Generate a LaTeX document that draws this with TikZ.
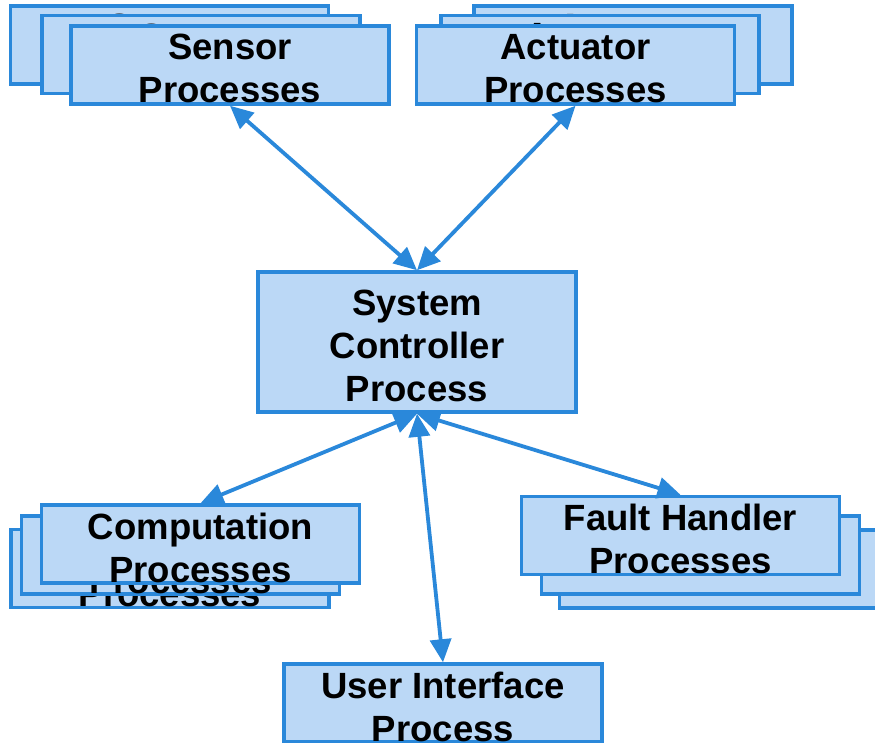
\documentclass[tikz,border=0pt]{standalone}
\usepackage{fontspec}
\setmainfont{Liberation Sans}
\usetikzlibrary{arrows.meta}
\definecolor{boxfill}{RGB}{187,216,246}
\definecolor{boxline}{RGB}{42,136,218}
\begin{document}
\begin{tikzpicture}[x=1pt,y=-1pt,
	proc/.style={draw=boxline, fill=boxfill, line width=3.5pt, rectangle, inner sep=0pt,
		minimum width=318pt, minimum height=78pt},
	txt/.style={align=center, inner sep=0pt, yshift=-3.5pt,
		font=\fontsize{36.5pt}{43pt}\selectfont\bfseries},
	link/.style={draw=boxline, line width=3.8pt,
		{Triangle[length=23pt,width=21pt]}-{Triangle[length=23pt,width=21pt]}}]
	\useasboundingbox (0,0) rectangle (875,742);
	\clip (0,0) rectangle (875,742);
	
	% sensor stack
	\node	(s3) at (169.5,45) [proc, label={[txt]center:Sensor\\Processes}] {};
	\node	(s2) at (201,54.5) [proc, label={[txt]center:Sensor\\Processes}] {};
	\node	(s1) at (230,65) [proc, label={[txt]center:Sensor\\Processes}] {};
	
	% actuator stack
	\node	(a3) at (633,45) [proc, label={[txt]center:Actuator\\Processes}] {};
	\node	(a2) at (600,54.5) [proc, label={[txt]center:Actuator\\Processes}] {};
	\node	(a1) at (575.5,65) [proc, label={[txt]center:Actuator\\Processes}] {};
	
	% computation stack
	\node	(c3) at (170,568.5) [proc, label={[txt]center:Computation\\Processes}] {};
	\node	(c2) at (180.5,555) [proc, label={[txt]center:Computation\\Processes}] {};
	\node	(c1) at (200.5,544) [proc, label={[txt]center:Computation\\Processes}] {};
	
	% fault handler stack
	\node	(f3) at (718.5,569) [proc] {};
	\node	(f2) at (700.5,555) [proc] {};
	\node	(f1) at (680.5,535.5) [proc, label={[txt]center:Fault Handler\\Processes}] {};
	
	\node	(sc) at (417,342) [proc, minimum height=140pt,
		label={[txt]center:System\\Controller\\Process}] {};
	\node	(ui) at (443,703) [proc, label={[txt]center:User Interface\\Process}] {};
	
	\draw 
	(s1.south) edge[link] (sc.north)
	(a1.south) edge[link] (sc.north)
	(sc.south) edge[link] (c1.north)
	(sc.south) edge[link] (ui.north)
	(sc.south) edge[link] (f1.north)
	;
\end{tikzpicture}
\end{document}
